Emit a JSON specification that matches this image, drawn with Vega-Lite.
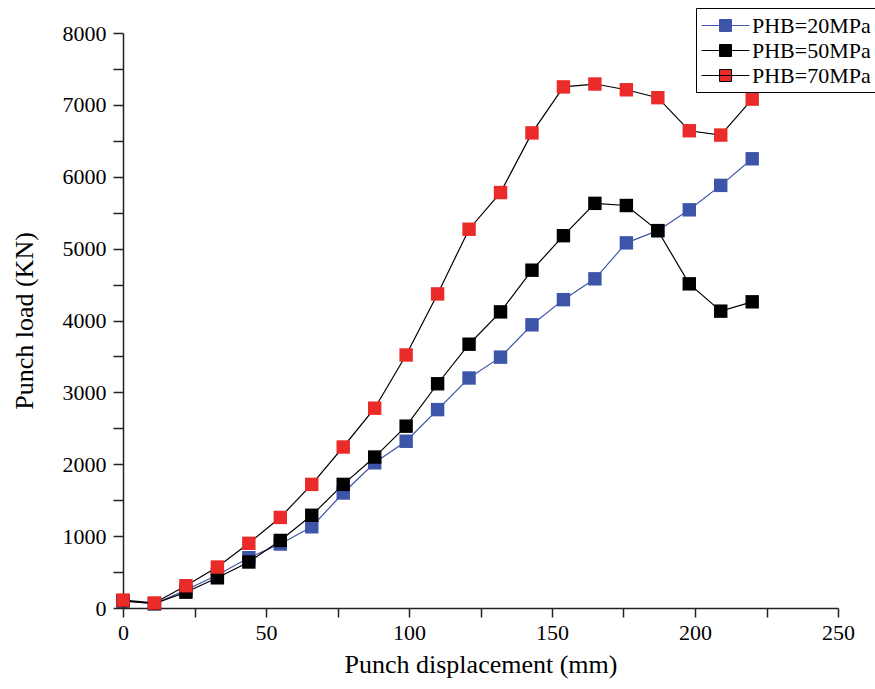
{
  "$schema": "https://vega.github.io/schema/vega-lite/v6.json",
  "width": 715,
  "height": 575,
  "autosize": {"type": "none"},
  "padding": {"left": 123, "top": 33, "right": 37, "bottom": 81},
  "background": "white",
  "config": {
    "view": {"stroke": null},
    "font": "Liberation Serif",
    "style": {"guide-label": {"font": "Liberation Serif"}, "guide-title": {"font": "Liberation Serif"}},
    "axis": {"labelFont": "Liberation Serif", "titleFont": "Liberation Serif", "labelColor": "black", "titleColor": "black", "titleFontWeight": "normal", "domainColor": "#222", "tickColor": "#222", "domainWidth": 1.5, "tickWidth": 1.5, "grid": false, "labelFontSize": 22, "titleFontSize": 26, "format": "d", "labelFlush": false},
    "legend": {"labelFont": "Liberation Serif"}
  },
  "data": {
    "values": [
      {"x": 0, "load": 100, "series": "PHB=20MPa"},
      {"x": 11, "load": 60, "series": "PHB=20MPa"},
      {"x": 22, "load": 250, "series": "PHB=20MPa"},
      {"x": 33, "load": 460, "series": "PHB=20MPa"},
      {"x": 44, "load": 700, "series": "PHB=20MPa"},
      {"x": 55, "load": 890, "series": "PHB=20MPa"},
      {"x": 66, "load": 1130, "series": "PHB=20MPa"},
      {"x": 77, "load": 1600, "series": "PHB=20MPa"},
      {"x": 88, "load": 2020, "series": "PHB=20MPa"},
      {"x": 99, "load": 2320, "series": "PHB=20MPa"},
      {"x": 110, "load": 2760, "series": "PHB=20MPa"},
      {"x": 121, "load": 3200, "series": "PHB=20MPa"},
      {"x": 132, "load": 3490, "series": "PHB=20MPa"},
      {"x": 143, "load": 3940, "series": "PHB=20MPa"},
      {"x": 154, "load": 4290, "series": "PHB=20MPa"},
      {"x": 165, "load": 4580, "series": "PHB=20MPa"},
      {"x": 176, "load": 5080, "series": "PHB=20MPa"},
      {"x": 187, "load": 5250, "series": "PHB=20MPa"},
      {"x": 198, "load": 5540, "series": "PHB=20MPa"},
      {"x": 209, "load": 5880, "series": "PHB=20MPa"},
      {"x": 220, "load": 6250, "series": "PHB=20MPa"},
      {"x": 0, "load": 100, "series": "PHB=50MPa"},
      {"x": 11, "load": 60, "series": "PHB=50MPa"},
      {"x": 22, "load": 220, "series": "PHB=50MPa"},
      {"x": 33, "load": 420, "series": "PHB=50MPa"},
      {"x": 44, "load": 640, "series": "PHB=50MPa"},
      {"x": 55, "load": 940, "series": "PHB=50MPa"},
      {"x": 66, "load": 1290, "series": "PHB=50MPa"},
      {"x": 77, "load": 1720, "series": "PHB=50MPa"},
      {"x": 88, "load": 2100, "series": "PHB=50MPa"},
      {"x": 99, "load": 2530, "series": "PHB=50MPa"},
      {"x": 110, "load": 3120, "series": "PHB=50MPa"},
      {"x": 121, "load": 3670, "series": "PHB=50MPa"},
      {"x": 132, "load": 4120, "series": "PHB=50MPa"},
      {"x": 143, "load": 4700, "series": "PHB=50MPa"},
      {"x": 154, "load": 5180, "series": "PHB=50MPa"},
      {"x": 165, "load": 5630, "series": "PHB=50MPa"},
      {"x": 176, "load": 5600, "series": "PHB=50MPa"},
      {"x": 187, "load": 5250, "series": "PHB=50MPa"},
      {"x": 198, "load": 4510, "series": "PHB=50MPa"},
      {"x": 209, "load": 4130, "series": "PHB=50MPa"},
      {"x": 220, "load": 4260, "series": "PHB=50MPa"},
      {"x": 0, "load": 110, "series": "PHB=70MPa"},
      {"x": 11, "load": 70, "series": "PHB=70MPa"},
      {"x": 22, "load": 310, "series": "PHB=70MPa"},
      {"x": 33, "load": 570, "series": "PHB=70MPa"},
      {"x": 44, "load": 900, "series": "PHB=70MPa"},
      {"x": 55, "load": 1260, "series": "PHB=70MPa"},
      {"x": 66, "load": 1720, "series": "PHB=70MPa"},
      {"x": 77, "load": 2240, "series": "PHB=70MPa"},
      {"x": 88, "load": 2780, "series": "PHB=70MPa"},
      {"x": 99, "load": 3520, "series": "PHB=70MPa"},
      {"x": 110, "load": 4370, "series": "PHB=70MPa"},
      {"x": 121, "load": 5270, "series": "PHB=70MPa"},
      {"x": 132, "load": 5780, "series": "PHB=70MPa"},
      {"x": 143, "load": 6610, "series": "PHB=70MPa"},
      {"x": 154, "load": 7250, "series": "PHB=70MPa"},
      {"x": 165, "load": 7290, "series": "PHB=70MPa"},
      {"x": 176, "load": 7210, "series": "PHB=70MPa"},
      {"x": 187, "load": 7100, "series": "PHB=70MPa"},
      {"x": 198, "load": 6640, "series": "PHB=70MPa"},
      {"x": 209, "load": 6580, "series": "PHB=70MPa"},
      {"x": 220, "load": 7080, "series": "PHB=70MPa"}
    ]
  },
  "encoding": {
    "x": {"field": "x", "type": "quantitative", "scale": {"domain": [0, 250], "nice": false, "zero": false},
      "axis": {"values": [0, 25, 50, 75, 100, 125, 150, 175, 200, 225, 250], "labelExpr": "datum.value % 50 === 0 ? datum.label : ''", "tickSize": 9, "labelPadding": 5, "labelFont": "Liberation Serif", "titleFont": "Liberation Serif", "labelFlush": false, "title": "Punch displacement (mm)", "titlePadding": 8,
        "encode": {"ticks": {"update": {"y2": {"signal": "datum.value % 50 === 0 ? 9 : 5"}}}}}},
    "y": {"field": "load", "type": "quantitative", "scale": {"domain": [0, 8000], "nice": false},
      "axis": {"values": [0, 500, 1000, 1500, 2000, 2500, 3000, 3500, 4000, 4500, 5000, 5500, 6000, 6500, 7000, 7500, 8000], "labelExpr": "datum.value % 1000 === 0 ? datum.label : ''", "tickSize": 10, "labelPadding": 7, "labelFont": "Liberation Serif", "titleFont": "Liberation Serif", "labelFlush": false, "title": "Punch load (KN)", "titlePadding": 25,
        "encode": {"ticks": {"update": {"x2": {"signal": "datum.value % 1000 === 0 ? -10 : -6"}}}}}}
  },
  "layer": [
    {
      "mark": {"type": "line", "strokeWidth": 1.2},
      "encoding": {
        "detail": {"field": "series", "type": "nominal"},
        "stroke": {"condition": {"test": "datum.series === 'PHB=20MPa'", "value": "#3f56a8"}, "value": "black"},
        "order": {"field": "x"}
      }
    },
    {
      "mark": {"type": "point", "shape": "square", "filled": true, "size": 180, "opacity": 1},
      "encoding": {
        "fill": {"field": "series", "type": "nominal", "scale": {"domain": ["PHB=20MPa", "PHB=50MPa", "PHB=70MPa"], "range": ["#3c55a8", "#000000", "#eb2a2a"]},
          "legend": {
            "title": null, "orient": "none", "legendX": 573, "legendY": -25,
            "labelFontSize": 22, "labelColor": "black", "labelFont": "Liberation Serif",
            "symbolType": "M-1,0H3M0.5,-0.5H1.5V0.5H0.5Z", "symbolSize": 576, "symbolStrokeWidth": 1,
            "symbolStrokeColor": {"expr": "datum.value === 'PHB=20MPa' ? '#3f56a8' : 'black'"},
            "rowPadding": 1, "labelOffset": 26,
            "strokeColor": "black", "fillColor": "white", "padding": 5
          }
        }
      }
    }
  ]
}
